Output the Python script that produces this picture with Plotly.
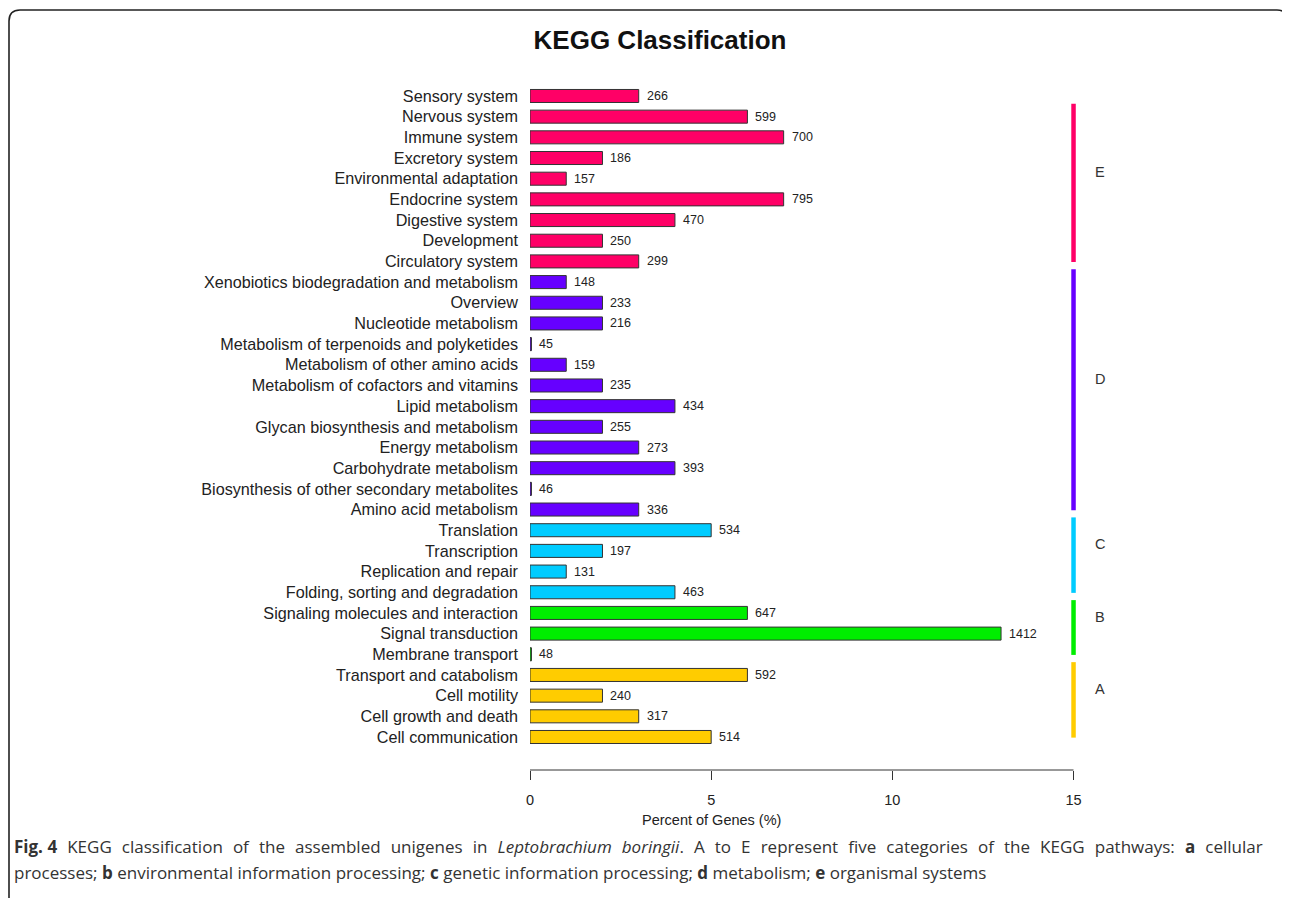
import plotly.graph_objects as go

# ---------------- data (top to bottom as in the chart) ----------------
categories = [
    "Sensory system", "Nervous system", "Immune system", "Excretory system",
    "Environmental adaptation", "Endocrine system", "Digestive system",
    "Development", "Circulatory system",
    "Xenobiotics biodegradation and metabolism", "Overview",
    "Nucleotide metabolism", "Metabolism of terpenoids and polyketides",
    "Metabolism of other amino acids", "Metabolism of cofactors and vitamins",
    "Lipid metabolism", "Glycan biosynthesis and metabolism",
    "Energy metabolism", "Carbohydrate metabolism",
    "Biosynthesis of other secondary metabolites", "Amino acid metabolism",
    "Translation", "Transcription", "Replication and repair",
    "Folding, sorting and degradation",
    "Signaling molecules and interaction", "Signal transduction",
    "Membrane transport",
    "Transport and catabolism", "Cell motility", "Cell growth and death",
    "Cell communication",
]
percents = [3, 6, 7, 2, 1, 7, 4, 2, 3,
            1, 2, 2, 0.04, 1, 2, 4, 2, 3, 4, 0.04, 3,
            5, 2, 1, 4,
            6, 13, 0.04,
            6, 2, 3, 5]
counts = [266, 599, 700, 186, 157, 795, 470, 250, 299,
          148, 233, 216, 45, 159, 235, 434, 255, 273, 393, 46, 336,
          534, 197, 131, 463,
          647, 1412, 48,
          592, 240, 317, 514]
groups = ["E"] * 9 + ["D"] * 12 + ["C"] * 4 + ["B"] * 3 + ["A"] * 4
group_names = ["A", "B", "C", "D", "E"]
group_colors = {"A": "#FFCC00", "B": "#00EE00", "C": "#00CCFF",
                "D": "#6600FF", "E": "#FF0066"}
x_ticks = [0, 5, 10, 15]

caption_line1 = ("<b>Fig. 4</b> KEGG classification of the assembled unigenes in "
                 "<i>Leptobrachium boringii</i>. A to E represent five categories of "
                 "the KEGG pathways: <b>a</b> cellular")
caption_line2 = ("processes; <b>b</b> environmental information processing; "
                 "<b>c</b> genetic information processing; <b>d</b> metabolism; "
                 "<b>e</b> organismal systems")

# ---------------- geometry ----------------
OFF = 8                      # page body margin
W, H = 1290 - OFF, 898 - OFF
ML, MR, MT, MB = 530 - OFF, 144, 60 - OFF, 128
n = len(categories)
rows = [n - 1 - i for i in range(n)]  # bottom row = 0
XR = [0, 17]
YR = [-1.596, 32.74]
PW, PH = W - ML - MR, H - MT - MB


def px2paper(px, py):
    """reference-window pixel -> paper coords"""
    return (px - OFF - ML) / PW, (H - MB - (py - OFF)) / PH


FONT = "Liberation Sans, Arial"

fig = go.Figure()
fig.add_trace(go.Bar(
    x=percents, y=rows, orientation="h", width=0.63,
    marker=dict(color=[group_colors[g] for g in groups],
                line=dict(color="#333333", width=1)),
    hoverinfo="skip", showlegend=False,
))

annotations = []
for v, r, c in zip(percents, rows, counts):
    annotations.append(dict(x=v, y=r, xref="x", yref="y", text=str(c),
                            showarrow=False, xanchor="left", xshift=6,
                            font=dict(size=12.5, color="#222222", family=FONT)))

shapes = []
top_limit = (n - 1) - 0.37
for g in group_names:
    idx = [rows[i] for i in range(n) if groups[i] == g]
    y0 = min(idx) - 0.03
    y1 = min(max(idx) + 0.62, top_limit)
    shapes.append(dict(type="line", xref="x", yref="y", x0=15, x1=15,
                       y0=y0, y1=y1,
                       line=dict(color=group_colors[g], width=4.5)))
    annotations.append(dict(x=15.72, y=(y0 + y1) / 2 + 0.53, xref="x", yref="y",
                            text=g, showarrow=False, xanchor="center",
                            font=dict(size=14.5, color="#333333", family=FONT)))

# x axis line (only 0..15)
shapes.append(dict(type="line", xref="x", yref="paper", x0=0, x1=15, y0=0, y1=0,
                   line=dict(color="#333333", width=1)))

# x axis title
tx, ty = px2paper(711, 820)
annotations.append(dict(x=tx, y=ty, xref="paper", yref="paper",
                        text="Percent of Genes (%)", showarrow=False,
                        xanchor="center", yanchor="middle",
                        font=dict(size=14.5, color="#222222", family=FONT)))

# caption (first line justified: widen the word gaps)
cx, cy1 = px2paper(12, 846)
_, cy2 = px2paper(12, 872)
cap_font = dict(size=17, color="#333333", family="Open Sans")
just_line1 = caption_line1.replace(" ", " \u2004").replace("Fig. \u20044", "Fig. 4")
annotations.append(dict(
    x=cx, y=cy1, xref="paper", yref="paper", xanchor="left", yanchor="middle",
    showarrow=False, align="left", font=cap_font, text=just_line1))
annotations.append(dict(
    x=cx, y=cy2, xref="paper", yref="paper", xanchor="left", yanchor="middle",
    showarrow=False, align="left", font=cap_font, text=caption_line2))

# rounded border
L, T, R, B, rad = 9, 10, 1288, 910, 11


def P(px, py):
    x, y = px2paper(px, py)
    return f"{x:.5f},{y:.5f}"


path = (f"M {P(L, B)} L {P(L, T + rad)} Q {P(L, T)} {P(L + rad, T)} "
        f"L {P(R - rad, T)} Q {P(R, T)} {P(R, T + rad)} L {P(R, B)}")
shapes.append(dict(type="path", xref="paper", yref="paper", path=path,
                   line=dict(color="#222222", width=1.6)))

fig.update_layout(
    width=W, height=H,
    margin=dict(l=ML, r=MR, t=MT, b=MB, pad=0),
    paper_bgcolor="white", plot_bgcolor="white",
    title=dict(text="<b>KEGG Classification</b>", x=(660 - OFF) / W,
               y=1 - (40 - OFF) / H,
               xref="container", yref="container", xanchor="center",
               yanchor="middle",
               font=dict(size=26, color="#111111", family=FONT)),
    xaxis=dict(range=XR, tickvals=x_ticks, ticktext=[str(t) for t in x_ticks],
               showgrid=False, zeroline=False, showline=False,
               ticks="outside", ticklen=9, tickwidth=1, tickcolor="#333333",
               ticklabelstandoff=8,
               tickfont=dict(size=14.5, color="#222222", family=FONT)),
    yaxis=dict(range=YR, tickvals=rows, ticktext=categories,
               showgrid=False, zeroline=False, showline=False, ticks="",
               ticklabelstandoff=11,
               tickfont=dict(size=16.2, color="#222222", family=FONT)),
    annotations=annotations, shapes=shapes,
    font=dict(family=FONT),
)

fig.write_html("out.html")
